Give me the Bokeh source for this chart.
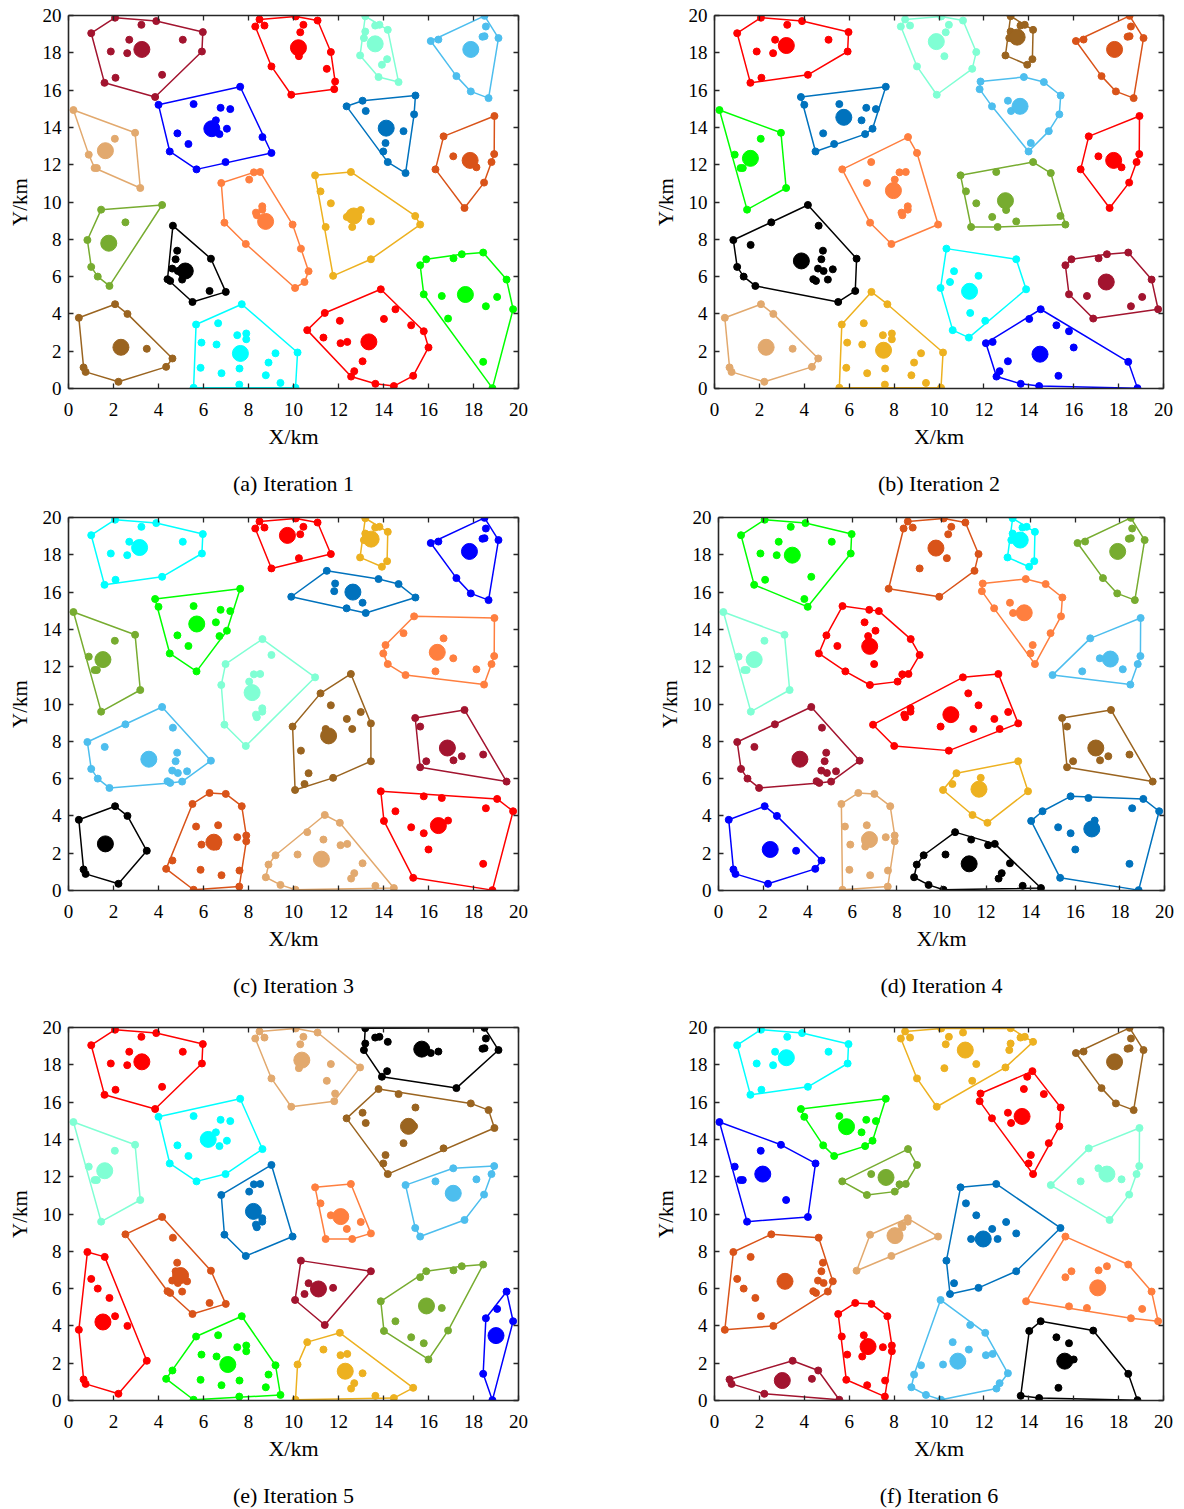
from bokeh.plotting import figure
from bokeh.layouts import column, row
from bokeh.models import LinearAxis, Range1d, FixedTicker
from bokeh.embed import file_html
from bokeh.resources import INLINE

# ---------------- colours ----------------
RED = "#FF0000"; WINE = "#A2142F"; BLUE = "#0000FF"; DBLUE = "#0072BD"; LBLUE = "#4DBEEE"
CYAN = "#00FFFF"; AQUA = "#80FFD4"; TAN = "#E2A96E"; OLIVE = "#77AC30"; GREEN = "#00FF00"
BLACK = "#000000"; BROWN = "#9A6420"; DORANGE = "#D95319"; ORANGE = "#FF7F3F"; YELLOW = "#EDB120"

# ---------------- customer locations (km), grouped ----------------
TL_CORE = [(1.01, 19.05), (2.07, 19.88), (3.90, 19.70), (5.97, 19.11), (5.93, 18.07), (1.60, 16.39),
           (3.24, 19.5), (2.70, 18.70), (1.88, 18.07), (2.61, 17.98), (5.08, 18.70), (2.09, 16.66), (4.16, 16.82)]
TL_S = [(3.85, 15.63)]
BL_W = [(4.0, 15.21)]
BL_IN = [(5.56, 15.25), (6.76, 15.05), (7.19, 14.98), (6.55, 14.38), (7.04, 13.93), (6.71, 13.64),
         (4.84, 13.68), (5.33, 13.11)]
BL_N = [(7.63, 16.18)]
BL_E1 = [(8.62, 13.48)]
BL_E2 = [(9.02, 12.63)]
BL_S1 = [(6.98, 12.14)]
BL_S2 = [(5.69, 11.75)]
BL_SW = [(4.50, 12.71)]
TN = [(0.22, 14.93), (2.96, 13.71), (3.19, 10.75), (1.16, 11.82), (0.90, 12.54), (2.06, 13.39), (1.26, 11.82)]
OL_N = [(1.45, 9.59)]
OL_CORE = [(1.82, 5.5), (1.30, 6.0), (1.01, 6.52), (0.84, 7.96), (1.61, 7.7)]
OL_NE = [(4.16, 9.84)]
OL_IN = [(2.53, 8.91)]
BK_CORE = [(4.64, 8.73), (4.52, 5.77), (4.40, 5.86), (4.83, 7.39), (4.76, 6.93), (4.61, 6.43),
           (5.05, 5.84), (4.86, 6.3), (5.27, 6.39)]
BK_E = [(6.33, 6.96)]
BK_SE = [(6.99, 5.18)]
BK_S = [(5.51, 4.64), (6.27, 5.23)]
BR_N = [(0.46, 3.79), (2.07, 4.52), (2.62, 4.0)]
BR_E = [(4.62, 1.61), (4.34, 1.16)]
BR_LOW = [(2.22, 0.36), (0.76, 0.89), (0.67, 1.13), (3.48, 2.13)]
CY_L = [(5.67, 3.43), (7.70, 4.52), (6.65, 3.5), (5.91, 2.46), (6.58, 2.36), (7.50, 2.86), (7.90, 2.95),
        (7.90, 2.64), (5.87, 1.11), (6.80, 0.82), (7.60, 1.07), (7.59, 0.21)]
CY_B = [(5.56, 0.04)]
CY_R = [(9.2, 1.89), (8.89, 1.39), (8.77, 0.71), (9.42, 0.30)]
CY_E = [(10.18, 1.93), (10.09, 0.04)]
OR_TOP = [(6.79, 11.02), (8.24, 11.59), (8.52, 11.61), (8.03, 11.2)]
OR_MID = [(8.61, 9.77), (8.61, 9.59), (8.33, 9.43), (8.37, 9.29), (6.93, 8.89), (7.88, 7.75)]
OR_O1 = [(9.96, 8.79)]
OR_R_A = [(10.33, 7.5)]
OR_R_B = [(10.67, 6.29), (10.49, 5.71)]
OR_R_C = [(10.07, 5.39)]
YL_W = [(10.96, 11.43)]
YL_N = [(12.55, 11.61)]
YL_IN = [(11.43, 8.66), (11.20, 10.57), (11.66, 9.93), (12.99, 9.57), (13.44, 8.96), (12.61, 8.66), (12.37, 9.2)]
YL_E1 = [(15.41, 9.25)]
YL_E2 = [(15.63, 8.79)]
YL_S = [(13.44, 6.93), (11.76, 6.04)]
DB_A = [(12.36, 15.13), (13.07, 15.43), (13.21, 14.88)]
DB_NE = [(15.42, 15.71)]
DB_B = [(15.36, 14.70), (14.09, 13.16), (13.99, 12.71), (14.89, 13.8)]
DB_S = [(14.19, 12.14)]
DB_SE = [(14.98, 11.55)]
DO_N = [(16.67, 13.52), (18.93, 14.61)]
DO_C = [(18.92, 12.57), (18.80, 12.14), (18.47, 11.04), (16.31, 11.75), (17.10, 12.45), (18.13, 11.86)]
DO_S = [(17.60, 9.68)]
RT_CORE = [(8.49, 19.79), (8.30, 19.41), (8.71, 19.46), (9.02, 17.27), (10.10, 19.95), (11.07, 19.73),
           (10.44, 19.5), (10.30, 19.1), (11.66, 18.04), (10.24, 17.82)]
RT_AD = [(11.48, 17.14), (9.90, 15.75)]
RT_BC = [(11.85, 16.46), (11.81, 16.05)]
AQ_CORE = [(13.19, 19.96), (13.19, 19.14), (13.63, 19.46), (13.82, 19.5), (14.19, 19.23), (13.13, 18.79)]
AQ_E = [(12.96, 17.86)]
AQ_HI = [(14.16, 17.66), (13.93, 17.36)]
AQ_FG = [(13.78, 16.7), (14.67, 16.43)]
LB_CORE = [(18.49, 19.98), (18.55, 19.41), (18.49, 18.89), (18.40, 18.86), (19.11, 18.79), (16.10, 18.63),
           (16.44, 18.71), (17.24, 16.75)]
LB_S = [(17.88, 15.93), (18.67, 15.57)]
GR_TOP = [(15.63, 6.61), (15.90, 6.93), (17.11, 6.98), (17.48, 7.2), (18.43, 7.29)]
GR_E = [(19.47, 5.84)]
GR_MW = [(15.79, 5.05), (16.59, 4.96)]
GR_ME = [(19.76, 4.25), (18.55, 4.41), (19.05, 4.91)]
GR_C = [(16.87, 3.75)]
GR_S = [(18.43, 1.43), (18.84, 0.02)]
RB_W0 = [(10.61, 3.13), (11.33, 2.73)]
RB_WM = [(12.09, 2.43), (12.39, 2.5), (13.07, 1.46), (12.70, 0.93), (12.56, 0.64)]
RB_WS = [(13.64, 0.25), (14.46, 0.13)]
RB_N1 = [(11.39, 4.05)]
RB_N2 = [(12.06, 3.63)]
RB_N3 = [(13.88, 5.32)]
RB_E = [(14.53, 4.25), (15.23, 3.39), (15.79, 3.07), (16.0, 2.2), (14.02, 3.73)]
RB_E5 = [(15.32, 0.68)]

# ---------------- clusters per iteration: (colour, members, centre) ----------------
ITER1 = [
    (WINE, TL_CORE + TL_S, (3.26, 18.18)),
    (RED, RT_CORE + RT_AD + RT_BC, (10.22, 18.27)),
    (AQUA, AQ_CORE + AQ_E + AQ_HI + AQ_FG, (13.63, 18.48)),
    (LBLUE, LB_CORE + LB_S, (17.88, 18.18)),
    (BLUE, BL_W + BL_IN + BL_N + BL_E1 + BL_E2 + BL_S1 + BL_S2 + BL_SW, (6.37, 13.93)),
    (TAN, TN, (1.64, 12.75)),
    (DBLUE, DB_A + DB_NE + DB_B + DB_S + DB_SE, (14.12, 13.96)),
    (DORANGE, DO_N + DO_C + DO_S, (17.85, 12.23)),
    (OLIVE, OL_N + OL_CORE + OL_NE + OL_IN, (1.79, 7.79)),
    (ORANGE, OR_TOP + OR_MID + OR_O1 + OR_R_A + OR_R_B + OR_R_C, (8.76, 8.96)),
    (YELLOW, YL_W + YL_N + YL_IN + YL_E1 + YL_E2 + YL_S, (12.68, 9.25)),
    (BLACK, BK_CORE + BK_E + BK_SE + BK_S, (5.19, 6.30)),
    (GREEN, GR_TOP + GR_E + GR_MW + GR_ME + GR_C + GR_S, (17.64, 5.04)),
    (BROWN, BR_N + BR_E + BR_LOW, (2.33, 2.21)),
    (CYAN, CY_L + CY_B + CY_R + CY_E, (7.64, 1.88)),
    (RED, RB_W0 + RB_WM + RB_WS + RB_N1 + RB_N2 + RB_N3 + RB_E + RB_E5, (13.35, 2.5)),
]
ITER2 = [
    (RED, TL_CORE, (3.2, 18.39)),
    (AQUA, RT_CORE + RT_AD, (9.88, 18.6)),
    (BROWN, AQ_CORE + AQ_E + AQ_HI, (13.48, 18.84)),
    (DORANGE, LB_CORE + LB_S, (17.82, 18.18)),
    (DBLUE, BL_W + BL_IN + BL_N + BL_SW + TL_S, (5.76, 14.54)),
    (LBLUE, RT_BC + AQ_FG + DB_A + DB_NE + DB_B, (13.61, 15.13)),
    (GREEN, TN + OL_N, (1.6, 12.34)),
    (ORANGE, OR_TOP + OR_MID + OR_O1 + BL_E1 + BL_E2 + BL_S1 + BL_S2, (7.97, 10.61)),
    (RED, DO_N + DO_C + DO_S, (17.78, 12.23)),
    (OLIVE, YL_W + YL_N + YL_E1 + YL_E2 + YL_IN + DB_S + DB_SE, (12.96, 10.07)),
    (BLACK, OL_CORE + OL_NE + OL_IN + BK_CORE + BK_E + BK_S, (3.87, 6.84)),
    (CYAN, OR_R_A + OR_R_B + OR_R_C + YL_S + RB_N1 + RB_N2 + RB_N3 + RB_W0, (11.36, 5.21)),
    (WINE, GR_TOP + GR_E + GR_MW + GR_ME + GR_C, (17.45, 5.71)),
    (TAN, BR_N + BR_E + BR_LOW, (2.3, 2.21)),
    (YELLOW, CY_L + CY_B + CY_R + CY_E + BK_SE, (7.53, 2.05)),
    (BLUE, RB_WM + RB_WS + RB_E + RB_E5 + GR_S, (14.5, 1.84)),
]
ITER3 = [
    (CYAN, TL_CORE, (3.16, 18.39)),
    (RED, RT_CORE, (9.73, 19.04)),
    (YELLOW, AQ_CORE + AQ_E + AQ_HI, (13.45, 18.84)),
    (BLUE, LB_CORE + LB_S, (17.82, 18.18)),
    (GREEN, BL_W + BL_IN + BL_N + BL_SW + TL_S + BL_S2, (5.70, 14.29)),
    (DBLUE, RT_AD + RT_BC + AQ_FG + DB_A + DB_NE, (12.64, 16.0)),
    (OLIVE, TN + OL_N, (1.53, 12.38)),
    (AQUA, OR_TOP + OR_MID + BL_E1 + BL_E2 + BL_S1 + YL_W, (8.16, 10.61)),
    (ORANGE, DB_B + DB_S + DB_SE + DO_N + DO_C, (16.39, 12.77)),
    (LBLUE, OL_CORE + OL_NE + OL_IN + BK_CORE + BK_E, (3.57, 7.04)),
    (BROWN, OR_O1 + OR_R_A + OR_R_B + OR_R_C + YL_N + YL_IN + YL_S, (11.56, 8.29)),
    (WINE, YL_E1 + YL_E2 + DO_S + GR_TOP + GR_E, (16.84, 7.64)),
    (BLACK, BR_N + BR_LOW, (1.64, 2.5)),
    (DORANGE, CY_L + CY_B + BK_SE + BK_S + BR_E, (6.46, 2.59)),
    (TAN, CY_R + CY_E + RB_W0 + RB_WM + RB_WS + RB_N1 + RB_N2, (11.24, 1.68)),
    (RED, RB_N3 + RB_E + RB_E5 + GR_MW + GR_ME + GR_C + GR_S, (16.44, 3.48)),
]
ITER4 = [
    (GREEN, TL_CORE + TL_S + BL_W, (3.31, 17.98)),
    (DORANGE, RT_CORE + RT_AD + BL_N, (9.75, 18.36)),
    (CYAN, AQ_CORE + AQ_E + AQ_HI, (13.53, 18.79)),
    (OLIVE, LB_CORE + LB_S, (17.9, 18.18)),
    (AQUA, TN + OL_N, (1.6, 12.38)),
    (RED, BL_IN + BL_E1 + BL_E2 + BL_S1 + BL_S2 + BL_SW + OR_TOP, (6.78, 13.09)),
    (ORANGE, RT_BC + AQ_FG + DB_A + DB_NE + DB_B + DB_S, (13.71, 14.89)),
    (LBLUE, DO_N + DO_C + DB_SE, (17.57, 12.41)),
    (WINE, OL_CORE + OL_NE + OL_IN + BK_CORE + BK_E, (3.65, 7.04)),
    (RED, OR_MID + OR_O1 + YL_W + YL_N + YL_IN + OR_R_A, (10.42, 9.43)),
    (BROWN, YL_E1 + YL_E2 + DO_S + GR_TOP + GR_E, (16.92, 7.64)),
    (YELLOW, OR_R_B + OR_R_C + YL_S + RB_N1 + RB_N2 + RB_N3, (11.68, 5.43)),
    (BLUE, BR_N + BR_E + BR_LOW, (2.32, 2.2)),
    (TAN, CY_L + CY_B + BK_SE + BK_S, (6.77, 2.73)),
    (BLACK, CY_R + CY_E + RB_W0 + RB_WM + RB_WS, (11.24, 1.43)),
    (DBLUE, RB_E + RB_E5 + GR_MW + GR_ME + GR_C + GR_S, (16.74, 3.3)),
]
ITER5 = [
    (RED, TL_CORE + TL_S, (3.26, 18.16)),
    (TAN, RT_CORE + RT_AD + RT_BC + AQ_E, (10.37, 18.25)),
    (BLACK, AQ_CORE + AQ_HI + LB_CORE, (15.7, 18.84)),
    (AQUA, TN + OL_N, (1.61, 12.32)),
    (CYAN, BL_W + BL_IN + BL_N + BL_E1 + BL_S1 + BL_S2 + BL_SW, (6.21, 14.0)),
    (BROWN, AQ_FG + LB_S + DO_N + DB_A + DB_NE + DB_B + DB_S, (15.11, 14.70)),
    (DBLUE, OR_TOP + OR_MID + OR_O1 + BL_E2, (8.22, 10.14)),
    (ORANGE, YL_W + YL_N + YL_IN, (12.1, 9.86)),
    (LBLUE, DO_C + DO_S + DB_SE + YL_E1 + YL_E2, (17.1, 11.11)),
    (DORANGE, OL_IN + OL_NE + BK_CORE + BK_E + BK_SE + BK_S, (4.98, 6.70)),
    (WINE, OR_R_A + OR_R_B + OR_R_C + YL_S + RB_N1, (11.11, 5.98)),
    (OLIVE, RB_N3 + GR_TOP + GR_C + RB_E + GR_MW, (15.91, 5.07)),
    (RED, OL_CORE + BR_N + BR_LOW, (1.53, 4.21)),
    (GREEN, CY_L + CY_R + CY_B + BR_E, (7.08, 1.93)),
    (YELLOW, CY_E + RB_W0 + RB_WM + RB_WS + RB_N2 + RB_E5, (12.3, 1.57)),
    (BLUE, GR_E + GR_ME + GR_S, (19.0, 3.48)),
]
ITER6 = [
    (CYAN, TL_CORE, (3.2, 18.38)),
    (YELLOW, RT_CORE + RT_AD + AQ_CORE + AQ_E, (11.17, 18.79)),
    (BROWN, LB_CORE + LB_S, (17.82, 18.16)),
    (GREEN, BL_W + BL_IN + BL_N + TL_S, (5.88, 14.68)),
    (RED, AQ_HI + RT_BC + AQ_FG + DB_A + DB_NE + DB_B + DB_S, (13.70, 15.23)),
    (BLUE, TN + OL_N + OL_NE + BL_SW, (2.15, 12.14)),
    (OLIVE, BL_E1 + BL_E2 + BL_S1 + BL_S2 + OR_TOP, (7.64, 11.96)),
    (AQUA, DO_N + DO_C + DO_S + DB_SE, (17.48, 12.14)),
    (DORANGE, OL_CORE + OL_IN + BK_CORE + BR_N, (3.14, 6.39)),
    (TAN, BK_E + OR_MID + OR_O1, (8.04, 8.84)),
    (DBLUE, YL_W + YL_N + YL_E1 + YL_S + YL_IN + OR_R_A + OR_R_B, (11.97, 8.66)),
    (ORANGE, GR_TOP + GR_E + GR_MW + GR_ME + RB_N3 + YL_E2, (17.07, 6.04)),
    (WINE, BR_LOW + BR_E + CY_B, (3.02, 1.07)),
    (RED, CY_L + BK_SE + BK_S, (6.84, 2.89)),
    (LBLUE, CY_R + CY_E + OR_R_C + RB_N1 + RB_N2 + RB_W0 + RB_WM, (10.84, 2.11)),
    (BLACK, RB_E + RB_E5 + RB_WS + GR_C + GR_S, (15.6, 2.11)),
]

CAPTIONS = ["(a) Iteration 1", "(b) Iteration 2", "(c) Iteration 3",
            "(d) Iteration 4", "(e) Iteration 5", "(f) Iteration 6"]
TICKS = list(range(0, 21, 2))
FONT = "Liberation Serif"
AXC = "#262626"


def convex_hull(pts):
    pts = sorted(set(pts))
    if len(pts) <= 2:
        return pts

    def cross(o, a, b):
        return (a[0] - o[0]) * (b[1] - o[1]) - (a[1] - o[1]) * (b[0] - o[0])

    lower = []
    for p in pts:
        while len(lower) >= 2 and cross(lower[-2], lower[-1], p) <= 0:
            lower.pop()
        lower.append(p)
    upper = []
    for p in reversed(pts):
        while len(upper) >= 2 and cross(upper[-2], upper[-1], p) <= 0:
            upper.pop()
        upper.append(p)
    return lower[:-1] + upper[:-1]


def style_axis(ax, labels=True, standoff=7):
    ax.ticker = FixedTicker(ticks=TICKS)
    ax.major_tick_in = 5
    ax.major_tick_out = 0
    ax.minor_tick_line_color = None
    ax.axis_line_color = AXC
    ax.axis_line_width = 1.6
    ax.major_tick_line_color = AXC
    ax.major_tick_line_width = 1.3
    ax.major_label_text_font = FONT
    ax.major_label_text_font_size = "19px"
    ax.major_label_standoff = standoff
    if labels:
        ax.major_label_text_color = "#000000"
    else:
        ax.major_label_text_color = None
        ax.major_label_standoff = 0
    ax.axis_label_text_font = FONT
    ax.axis_label_text_font_size = "21px"
    ax.axis_label_text_font_style = "normal"
    ax.axis_label_text_color = "#000000"
    ax.axis_label_standoff = 8


def make_panel(clusters, caption, left, right, top, bottom, fw):
    p = figure(frame_width=fw, frame_height=373, x_range=Range1d(0, 20), y_range=Range1d(0, 20),
               output_backend="svg", toolbar_location=None,
               min_border_left=left, min_border_right=right,
               min_border_top=top, min_border_bottom=bottom,
               x_axis_label="X/km\n\n" + caption, y_axis_label="Y/km")
    p.grid.visible = False
    p.outline_line_color = None
    p.background_fill_color = "white"
    style_axis(p.xaxis[0], standoff=14)
    style_axis(p.yaxis[0], standoff=7)
    p.xaxis[0].axis_label_text_font_size = "22px"
    p.xaxis[0].axis_label_text_line_height = 0.95
    p.xaxis[0].axis_label_standoff = 5
    for loc in ("above", "right"):
        ax = LinearAxis()
        style_axis(ax, labels=False)
        p.add_layout(ax, loc)
    for color, pts, cen in clusters:
        h = convex_hull(pts)
        xs = [q[0] for q in h] + [h[0][0]]
        ys = [q[1] for q in h] + [h[0][1]]
        p.line(xs, ys, line_color=color, line_width=1.5)
        p.scatter([q[0] for q in pts], [q[1] for q in pts], size=7, color=color)
        p.scatter([cen[0]], [cen[1]], size=16, color=color)
    return p


pa = make_panel(ITER1, CAPTIONS[0], 68, 74, 15, 114, 450)
pb = make_panel(ITER2, CAPTIONS[1], 122, 21, 15, 114, 449)
pc = make_panel(ITER3, CAPTIONS[2], 68, 74, 15, 120, 450)
pd = make_panel(ITER4, CAPTIONS[3], 126, 20, 15, 120, 446)
pe = make_panel(ITER5, CAPTIONS[4], 68, 74, 17, 100, 450)
pf = make_panel(ITER6, CAPTIONS[5], 122, 21, 17, 100, 449)

layout = column(row(pa, pb), row(pc, pd), row(pe, pf))
open("out.html", "w").write(file_html(layout, INLINE))
